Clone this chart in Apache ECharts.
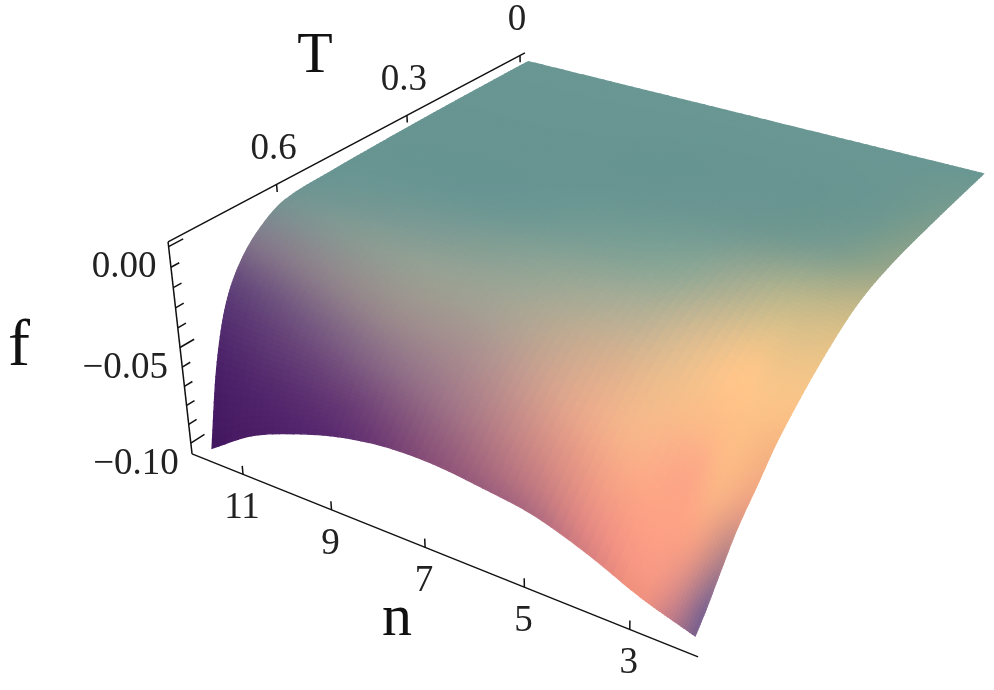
<!DOCTYPE html>
<html>
<head>
<meta charset="utf-8">
<style>html,body{margin:0;padding:0;background:#fff}#con{width:994px;height:690px}</style>
<script src="https://cdn.jsdelivr.net/npm/echarts@6/dist/echarts.min.js"></script>
</head>
<body>
<div id="con"></div>
<script>
// values
var nValues = [2, 3, 4, 5, 6, 7, 8, 9, 10, 11, 12];
var tValues = [0, 0.15, 0.3, 0.4, 0.5, 0.6, 0.65, 0.7, 0.74, 0.77, 0.795];
var fRows = [
    [0, 0, 0, 0, 0, 0, 0, 0, 0, 0, 0],
    [-0.0024, -0.002, -0.0016, -0.0013, -0.001, -0.0008, -0.0006, -0.0005, -0.0004, -0.0003, -0.0002],
    [-0.006, -0.005, -0.004, -0.003, -0.0024, -0.002, -0.0016, -0.0013, -0.001, -0.0008, -0.0006],
    [-0.012, -0.0095, -0.0075, -0.006, -0.005, -0.004, -0.0033, -0.0026, -0.002, -0.0015, -0.0012],
    [-0.0255, -0.02, -0.016, -0.013, -0.0105, -0.0085, -0.007, -0.0055, -0.004, -0.003, -0.002],
    [-0.044, -0.037, -0.031, -0.026, -0.0215, -0.018, -0.015, -0.012, -0.009, -0.006, -0.0037],
    [-0.057, -0.049, -0.042, -0.036, -0.031, -0.027, -0.023, -0.019, -0.015, -0.011, -0.0095],
    [-0.07, -0.062, -0.054, -0.048, -0.043, -0.039, -0.035, -0.031, -0.027, -0.023, -0.021],
    [-0.084, -0.075, -0.066, -0.059, -0.054, -0.051, -0.048, -0.045, -0.042, -0.04, -0.039],
    [-0.095, -0.086, -0.076, -0.0675, -0.0635, -0.0605, -0.06, -0.06, -0.062, -0.065, -0.067],
    [-0.103, -0.0945, -0.0832, -0.0745, -0.0705, -0.0678, -0.0682, -0.0722, -0.0795, -0.0894, -0.105]
];
var tTicks = [0, 0.3, 0.6];
var tTickLabels = ['0', '0.3', '0.6'];
var nTicks = [11, 9, 7, 5, 3];
var fTicks = [0, -0.01, -0.02, -0.03, -0.04, -0.05, -0.06, -0.07, -0.08, -0.09, -0.1];
var fMajor = [0, -0.05, -0.1];
var fTickLabels = ['0.00', '\u22120.05', '\u22120.10'];

// surface shading
var colorN = [2, 2.5, 3, 4, 5, 7, 9, 12];
var colorT = [0, 0.3, 0.45, 0.55, 0.62, 0.68, 0.73, 0.77, 0.795];
var colorRows = [
    ['#6a9793', '#6a9793', '#6a9793', '#6a9793', '#6a9793', '#6a9793', '#6a9793', '#6a9793'],
    ['#92a48a', '#84a08c', '#7a9c90', '#709890', '#6c9692', '#689592', '#689592', '#689592'],
    ['#dcc088', '#d2bd8a', '#c8bb8c', '#a8ae92', '#8aa695', '#769c94', '#6a9693', '#689592'],
    ['#f9c488', '#f8c58a', '#fdc68a', '#dcbc90', '#b8b095', '#94a595', '#809c94', '#6c9593'],
    ['#f5b382', '#fcbe86', '#fdbd88', '#f0bd8c', '#d8b08f', '#a8a494', '#959f93', '#789192'],
    ['#e89f84', '#fab486', '#fca888', '#f8b58a', '#e8aa8c', '#ae9290', '#9a8d8d', '#80748a'],
    ['#b08088', '#f09e85', '#fda285', '#f6a286', '#de9486', '#a67b89', '#856785', '#5e3f78'],
    ['#806690', '#d88c88', '#f89a85', '#ea8e84', '#c87e82', '#95607e', '#6a3d76', '#4a2068'],
    ['#7a608c', '#c98088', '#f0927f', '#d88080', '#b06c80', '#8a5078', '#5c2c70', '#431660']
];

// view: box axes mapped to page pixels with a perspective divide
function project(n, T, f) {
    var a = (12.205 - n) * 0.0958;
    var b = 0.983 - 1.2 * T;
    var c = 0.021 - 9.25 * f;
    var w = 1 - 0.15 * a + 0.225 * b + 0.06 * c;
    return [
        (168 + 431.7 * a + 475.1 * b + 35.5 * c) / w,
        (242 + 116.7 * a - 177.1 * b + 239.2 * c) / w
    ];
}

// smooth curve through a row of table values
function smoothAt(xs, ys, x) {
    var i = 0;
    while (i < xs.length - 2 && x > xs[i + 1]) i++;
    var h = xs[i + 1] - xs[i], s = (x - xs[i]) / h;
    var m0 = i > 0 ? (ys[i + 1] - ys[i - 1]) / (xs[i + 1] - xs[i - 1]) : (ys[1] - ys[0]) / h;
    var m1 = i < xs.length - 2 ? (ys[i + 2] - ys[i]) / (xs[i + 2] - xs[i]) : (ys[i + 1] - ys[i]) / h;
    var s2 = s * s, s3 = s2 * s;
    return (2 * s3 - 3 * s2 + 1) * ys[i] + (s3 - 2 * s2 + s) * h * m0 +
        (3 * s2 - 2 * s3) * ys[i + 1] + (s3 - s2) * h * m1;
}
function surfaceF(n, T) {
    var col = fRows.map(function (row) { return smoothAt(nValues, row, n); });
    return smoothAt(tValues, col, T);
}
var colorRgb = colorRows.map(function (row) {
    return row.map(function (hex) {
        return [parseInt(hex.substr(1, 2), 16), parseInt(hex.substr(3, 2), 16), parseInt(hex.substr(5, 2), 16)];
    });
});
function surfaceColor(n, T) {
    var out = [];
    for (var k = 0; k < 3; k++) {
        var col = colorRgb.map(function (row) {
            return smoothAt(colorN, row.map(function (c) { return c[k]; }), n);
        });
        out.push(Math.max(0, Math.min(255, Math.round(smoothAt(colorT, col, T)))));
    }
    return 'rgb(' + out.join(',') + ')';
}

// fine cells over the table, far edge first
var cells = [];
for (var i = 0; i < tValues.length - 1; i++) {
    var tStep = tValues[i] < 0.6 ? 0.008 : 0.003;
    var tSub = Math.ceil((tValues[i + 1] - tValues[i]) / tStep);
    for (var p = 0; p < tSub; p++) {
        var t0 = tValues[i] + (tValues[i + 1] - tValues[i]) * p / tSub;
        var t1 = tValues[i] + (tValues[i + 1] - tValues[i]) * (p + 1) / tSub;
        for (var j = nValues.length - 2; j >= 0; j--) {
            var nSub = j === 0 ? 20 : 6;
            for (var q = nSub - 1; q >= 0; q--) {
                var n0 = nValues[j] + (nValues[j + 1] - nValues[j]) * q / nSub;
                var n1 = nValues[j] + (nValues[j + 1] - nValues[j]) * (q + 1) / nSub;
                cells.push([n0, n1, t0, t1]);
            }
        }
    }
}

var tEnd = [-0.014, 0.819], nEnd = [12.205, 1.767], fEnd = [0.0023, -0.1058];

var axisSegs = [
    [[nEnd[0], tEnd[1], fEnd[0]], [nEnd[0], tEnd[0], fEnd[0]]],
    [[nEnd[0], tEnd[1], fEnd[0]], [nEnd[0], tEnd[1], fEnd[1]]],
    [[nEnd[0], tEnd[1], fEnd[1]], [nEnd[1], tEnd[1], fEnd[1]]]
];
tTicks.forEach(function (t) {
    axisSegs.push([[nEnd[0], t, fEnd[0]], [nEnd[0], t, fEnd[0] - 0.0038]]);
});
nTicks.forEach(function (n) {
    axisSegs.push([[n, tEnd[1], fEnd[1]], [n, tEnd[1], fEnd[1] + 0.0045]]);
});
fTicks.forEach(function (f) {
    var len = fMajor.indexOf(f) >= 0 ? 0.028 : 0.016;
    axisSegs.push([[nEnd[0], tEnd[1], f], [nEnd[0], tEnd[1] - len, f]]);
});

var labelRows = [];
tTicks.forEach(function (t, i) {
    labelRows.push({ at: project(nEnd[0], t, fEnd[0]), text: tTickLabels[i], dx: -3, dy: -35, align: 'center' });
});
nTicks.forEach(function (n) {
    labelRows.push({ at: project(n, tEnd[1], fEnd[1]), text: String(n), dx: -1, dy: 34, align: 'center' });
});
fMajor.forEach(function (f, i) {
    labelRows.push({ at: project(nEnd[0], tEnd[1], f), text: fTickLabels[i], dx: -12, dy: 21, align: 'right' });
});

var myChart = echarts.init(document.getElementById('con'));
var labelFont = '"Liberation Serif", "DejaVu Serif", serif';

var option = {
    animation: false,
    backgroundColor: '#fff',
    grid: { left: 0, right: 0, top: 0, bottom: 0 },
    xAxis: { type: 'value', min: 0, max: 994, show: false },
    yAxis: { type: 'value', min: 0, max: 690, inverse: true, show: false },
    graphic: [
        { type: 'text', x: 315, y: 57, style: { text: 'T', font: '58px ' + labelFont, fill: '#111', align: 'center', verticalAlign: 'middle' } },
        { type: 'text', x: 19, y: 348, style: { text: 'f', font: '66px ' + labelFont, fill: '#111', align: 'center', verticalAlign: 'middle' } },
        { type: 'text', x: 397, y: 619, style: { text: 'n', font: '60px ' + labelFont, fill: '#111', align: 'center', verticalAlign: 'middle' } }
    ],
    series: [
        {
            type: 'custom',
            silent: true,
            clip: false,
            progressive: 0,
            data: cells,
            encode: { x: 0, y: 2 },
            renderItem: function (params, api) {
                var n0 = api.value(0), n1 = api.value(1), t0 = api.value(2), t1 = api.value(3);
                var corners = [[n0, t0], [n1, t0], [n1, t1], [n0, t1]];
                var pts = corners.map(function (c) {
                    return api.coord(project(c[0], c[1], surfaceF(c[0], c[1])));
                });
                var col = surfaceColor((n0 + n1) / 2, (t0 + t1) / 2);
                return {
                    type: 'polygon',
                    shape: { points: pts },
                    style: { fill: col, stroke: col, lineWidth: 1.4 }
                };
            }
        },
        {
            type: 'custom',
            silent: true,
            clip: false,
            data: axisSegs.map(function (s, i) { return [i]; }),
            renderItem: function (params, api) {
                var s = axisSegs[api.value(0)];
                var p0 = api.coord(project(s[0][0], s[0][1], s[0][2]));
                var p1 = api.coord(project(s[1][0], s[1][1], s[1][2]));
                return {
                    type: 'line',
                    shape: { x1: p0[0], y1: p0[1], x2: p1[0], y2: p1[1] },
                    style: { stroke: '#111', lineWidth: 1.5 }
                };
            }
        },
        {
            type: 'custom',
            silent: true,
            clip: false,
            data: labelRows.map(function (s, i) { return [i]; }),
            renderItem: function (params, api) {
                var r = labelRows[api.value(0)];
                var p = api.coord(r.at);
                return {
                    type: 'text',
                    x: p[0] + r.dx,
                    y: p[1] + r.dy,
                    style: { text: r.text, font: '37px ' + labelFont, fill: '#222', align: r.align, verticalAlign: 'middle' }
                };
            }
        }
    ]
};
myChart.setOption(option);
</script>
</body>
</html>
